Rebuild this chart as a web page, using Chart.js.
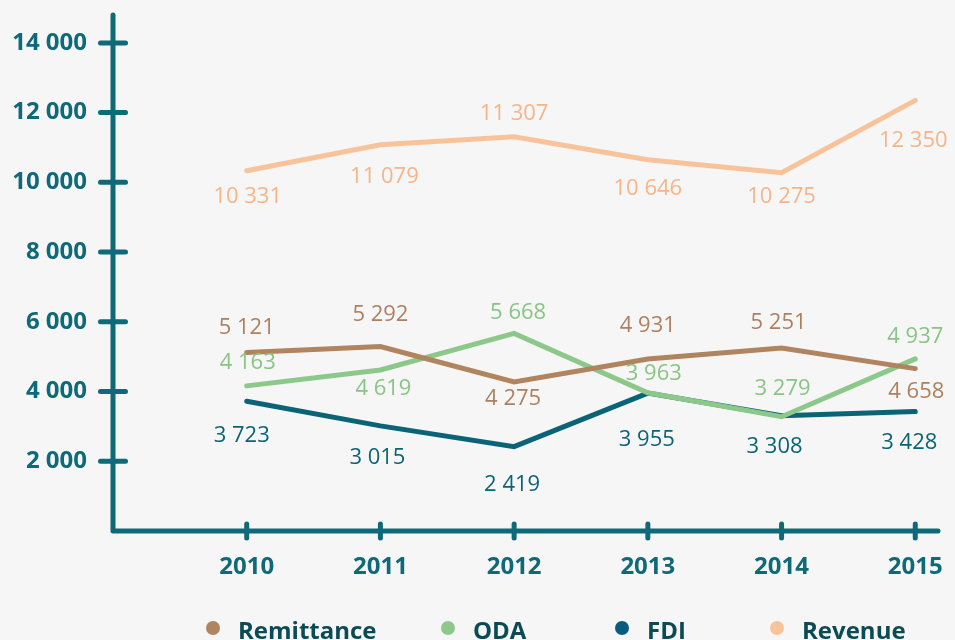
<!DOCTYPE html>
<html>
<head>
<meta charset="utf-8">
<script src="https://cdn.jsdelivr.net/npm/chart.js@4.4.0/dist/chart.umd.min.js"></script>
<style>
  html, body { margin: 0; padding: 0; background: #f6f6f6; }
  #wrap { width: 955px; height: 640px; position: relative; overflow: hidden; }
</style>
</head>
<body>
<div id="wrap"><canvas id="c" width="955" height="640"></canvas></div>
<script>
// ---- data ----
const years = [2010, 2011, 2012, 2013, 2014, 2015];
const remittance = [5121, 5292, 4275, 4931, 5251, 4658];
const oda = [4163, 4619, 5668, 3963, 3279, 4937];
const fdi = [3723, 3015, 2419, 3955, 3308, 3428];
const revenue = [10331, 11079, 11307, 10646, 10275, 12350];
const yTickValues = [2000, 4000, 6000, 8000, 10000, 12000, 14000];
const seriesNames = ['Remittance', 'ODA', 'FDI', 'Revenue'];

// ---- styles (kept apart from data) ----
const teal = '#0e6a79';
const legendText = '#0b4b53';
const lineColors = ['#b0845f', '#8dc88b', '#0b6476', '#f8c39a'];
const labelColors = ['#ad8160', '#88c585', '#0b6476', '#f5b588'];
const legendDotColors = ['#b0845f', '#8fc78c', '#0b5b7f', '#f7c39b'];
// label offsets relative to each point (px)
const labelDy = [
  [-25, -32, 17, -33, -25, 23],
  [-23, 19, -21, -19, -28, -22],
  [35, 32, 38, 47, 31, 31],
  [26, 32, -23, 29, 24, 40]
];
const labelDx = [
  [0, 0, -1, 0, -3, 1],
  [1, 3, 4, 6, 1, 0],
  [-5, -3, -2, -1, -7, -6],
  [1, 4, 0, 0, 0, -2]
];
// legend item left edges (px)
const legendX = [206, 441, 615, 770];

const seriesValues = [remittance, oda, fdi, revenue];
const fmt = v => String(v).replace(/\B(?=(\d{3})+(?!\d))/g, ' ');

const axesPlugin = {
  id: 'axesPlugin',
  afterDraw(chart) {
    const { ctx, chartArea: a, scales: { x, y } } = chart;
    ctx.save();
    ctx.strokeStyle = teal;
    ctx.lineWidth = 5;
    ctx.lineCap = 'round';
    ctx.lineJoin = 'round';
    ctx.beginPath();
    ctx.moveTo(a.left, a.top);
    ctx.lineTo(a.left, a.bottom);
    ctx.lineTo(a.right, a.bottom);
    ctx.stroke();
    y.ticks.forEach(t => {
      const py = y.getPixelForValue(t.value);
      ctx.beginPath();
      ctx.moveTo(a.left - 12.5, py);
      ctx.lineTo(a.left + 12.5, py);
      ctx.stroke();
    });
    x.ticks.forEach(t => {
      const px = x.getPixelForValue(t.value);
      ctx.beginPath();
      ctx.moveTo(px, a.bottom - 7);
      ctx.lineTo(px, a.bottom + 7);
      ctx.stroke();
    });
    ctx.restore();
  }
};

const valueLabels = {
  id: 'valueLabels',
  afterDatasetsDraw(chart) {
    const { ctx } = chart;
    ctx.save();
    ctx.font = '22px "Open Sans"';
    ctx.textAlign = 'center';
    ctx.textBaseline = 'middle';
    chart.data.datasets.forEach((ds, di) => {
      const meta = chart.getDatasetMeta(di);
      ctx.fillStyle = labelColors[di];
      meta.data.forEach((pt, i) => {
        ctx.fillText(fmt(ds.data[i].y), pt.x + labelDx[di][i], pt.y + labelDy[di][i]);
      });
    });
    ctx.restore();
  }
};

const bottomLegend = {
  id: 'bottomLegend',
  afterDraw(chart) {
    const { ctx } = chart;
    ctx.save();
    ctx.font = 'bold 24px "Open Sans"';
    ctx.textBaseline = 'alphabetic';
    const r = 7, dotToText = 25;
    chart.data.datasets.forEach((ds, i) => {
      const x0 = legendX[i];
      ctx.fillStyle = legendDotColors[i];
      ctx.beginPath();
      ctx.arc(x0 + r, 628, r, 0, Math.PI * 2);
      ctx.fill();
      ctx.fillStyle = legendText;
      ctx.fillText(ds.label, x0 + r + dotToText, 639);
    });
    ctx.restore();
  }
};

new Chart(document.getElementById('c'), {
  type: 'line',
  data: {
    datasets: seriesNames.map((name, i) => ({
      label: name,
      data: years.map((yr, k) => ({ x: yr, y: seriesValues[i][k] })),
      borderColor: lineColors[i],
      backgroundColor: lineColors[i],
      borderWidth: 5,
      pointRadius: 0,
      pointHoverRadius: 0,
      tension: 0,
      fill: false,
      borderCapStyle: 'round'
    }))
  },
  options: {
    responsive: false,
    animation: false,
    events: [],
    layout: { padding: { top: 15, right: 17, left: 0, bottom: 0 } },
    plugins: { legend: { display: false }, tooltip: { enabled: false } },
    scales: {
      x: {
        type: 'linear',
        min: 2009,
        max: 2015.17,
        afterBuildTicks: s => { s.ticks = years.map(v => ({ value: v })); },
        afterFit: s => { s.height = 109; },
        ticks: {
          callback: v => String(v),
          font: { family: 'Open Sans', weight: 'bold', size: 24 },
          color: teal,
          padding: 0,
          autoSkip: false,
          maxRotation: 0
        },
        grid: { display: false, drawTicks: true, tickLength: 22 },
        border: { display: false }
      },
      y: {
        type: 'linear',
        min: 0,
        max: 14800,
        afterBuildTicks: s => { s.ticks = yTickValues.map(v => ({ value: v })); },
        afterFit: s => { s.width = 113; },
        ticks: {
          callback: v => fmt(v),
          font: { family: 'Open Sans', weight: 'bold', size: 24 },
          color: teal,
          padding: 0
        },
        grid: { display: false, drawTicks: true, tickLength: 26 },
        border: { display: false }
      }
    }
  },
  plugins: [axesPlugin, valueLabels, bottomLegend]
});
</script>
</body>
</html>
